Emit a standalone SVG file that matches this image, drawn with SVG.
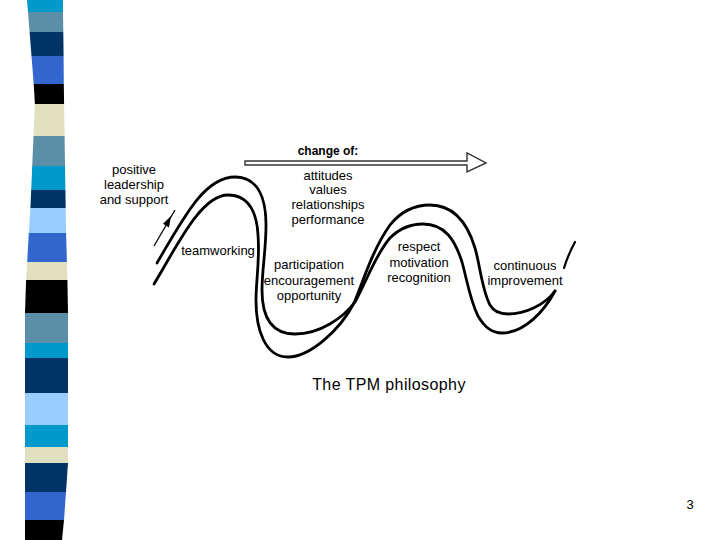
<svg xmlns="http://www.w3.org/2000/svg" width="720" height="540" viewBox="0 0 720 540">
<style>
.t{font-family:"Liberation Sans",Arial,sans-serif;font-size:13px;fill:#000;text-anchor:middle}
.c{fill:none;stroke:#000;stroke-width:2.8;stroke-linecap:round;stroke-linejoin:round}
.cy{fill:#0099cc}.st{fill:#5b8fa8}.nv{fill:#003366}.rb{fill:#3366cc}.bk{fill:#000}.be{fill:#e0e0c0}.lb{fill:#99ccff}
</style>
<rect width="720" height="540" fill="#fff"/>
<g id="stripe-bar">
<polygon class="cy" points="27,0 63,0 63,12 28,12"/>
<polygon class="st" points="28,12 63,12 63.3,32 29.6,32"/>
<polygon class="nv" points="29.6,32 63.3,32 63.6,56 31.5,56"/>
<polygon class="rb" points="31.5,56 63.6,56 63.8,84 33.7,84"/>
<polygon class="bk" points="33.7,84 63.8,84 64.1,104 34.9,104"/>
<polygon class="be" points="34.9,104 64.1,104 64.6,136 33.5,136"/>
<polygon class="st" points="33.5,136 64.6,136 65,166 32.2,166"/>
<polygon class="cy" points="32.2,166 65,166 65.4,190 31.2,190"/>
<polygon class="nv" points="31.2,190 65.4,190 65.7,208 30.4,208"/>
<polygon class="lb" points="30.4,208 65.7,208 66.1,233 28.8,233"/>
<polygon class="rb" points="28.8,233 66.1,233 66.9,262 27.2,262"/>
<polygon class="be" points="27.2,262 66.9,262 67.4,280 26.1,280"/>
<polygon class="bk" points="26.1,280 67.4,280 68,313 25,313"/>
<polygon class="st" points="25,313 68,313 68,343 25,343"/>
<polygon class="cy" points="25,343 68,343 68,358 25,358"/>
<polygon class="nv" points="25,358 68,358 68,393 25,393"/>
<polygon class="lb" points="25,393 68,393 68,425 25,425"/>
<polygon class="cy" points="25,425 68,425 68,447 25,447"/>
<polygon class="be" points="25,447 68,447 68,463 25,463"/>
<polygon class="nv" points="25,463 68,463 66,492 25,492"/>
<polygon class="rb" points="25,492 66,492 64,520 25,520"/>
<polygon class="bk" points="25,520 64,520 62,540 25,540"/>
</g>
<g id="connectors">
<path id="wave-a" class="c" d="M157,263 C185,215 205,177 235,177 C258,177 266,198 266,225 C266,250 262,270 262,290 C262,315 270,334 295,334 C320,334 343,318 355,302 C365,285 375,255 390,238 C400,228 410,224 423,224 C445,224 455,240 462,262 C467,280 470,300 478,316 C485,328 492,333 502,333 C525,333 545,310 555,291"/>
<path id="wave-b" class="c" d="M154,284 C175,250 200,195 228,195 C250,195 257,215 258,235 C260,260 256,280 256,300 C256,330 265,357 288,357 C310,357 340,330 354,303 C362,285 372,250 390,225 C402,210 415,205 430,205 C455,205 468,225 475,248 C480,265 482,290 490,305 C494,312 500,314 508,314 C525,314 545,305 555,291"/>
<path id="tail-stroke" d="M575,242 Q568,255 564,268" fill="none" stroke="#000" stroke-width="2.2" stroke-linecap="round"/>
<line id="support-arrow" x1="154" y1="246" x2="175" y2="210" stroke="#000" stroke-width="1.3"/>
<polygon points="171,216 169,227.4 163,223.8" fill="#000"/>
<polygon id="change-arrow" points="245,161 467,161 467,153 486,163 467,172 467,165 245,165" fill="#fff" stroke="#333" stroke-width="1.4" stroke-linejoin="miter"/>
</g>
<g id="node-leadership">
<text class="t" x="134" y="174">positive</text>
<text class="t" x="134" y="189">leadership</text>
<text class="t" x="134" y="204">and support</text>
</g>
<g id="node-change">
<text class="t" x="328" y="155" style="font-weight:bold;font-size:12px">change of:</text>
<text class="t" x="328" y="180">attitudes</text>
<text class="t" x="328" y="194">values</text>
<text class="t" x="328" y="209">relationships</text>
<text class="t" x="328" y="224">performance</text>
</g>
<g id="node-teamworking">
<text class="t" x="218" y="255">teamworking</text>
</g>
<g id="node-participation">
<text class="t" x="309" y="269">participation</text>
<text class="t" x="309" y="285">encouragement</text>
<text class="t" x="309" y="300">opportunity</text>
</g>
<g id="node-respect">
<text class="t" x="419" y="251">respect</text>
<text class="t" x="419" y="267">motivation</text>
<text class="t" x="419" y="282">recognition</text>
</g>
<g id="node-improvement">
<text class="t" x="525" y="270">continuous</text>
<text class="t" x="525" y="285">improvement</text>
</g>
<g id="caption">
<text class="t" x="389" y="390" style="font-size:16px;letter-spacing:0.4px">The TPM philosophy</text>
</g>
<g id="page-number">
<text class="t" x="690" y="509" style="font-size:13px">3</text>
</g>
</svg>
